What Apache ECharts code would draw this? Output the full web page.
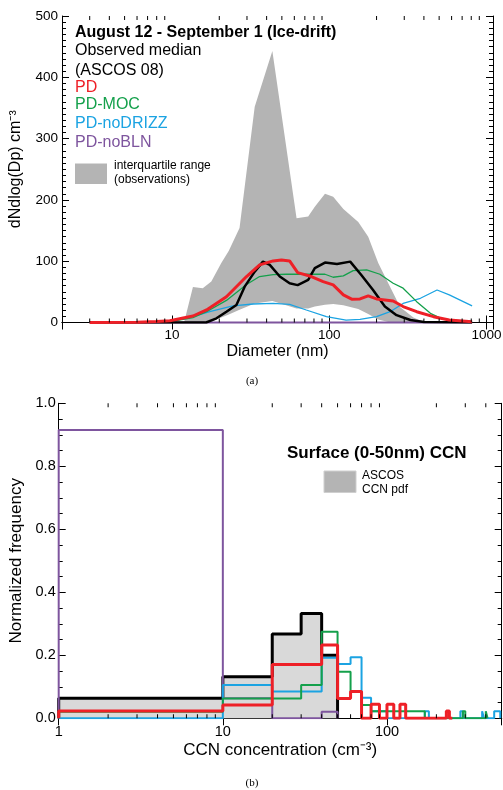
<!DOCTYPE html>
<html><head><meta charset="utf-8">
<script src="https://cdn.jsdelivr.net/npm/echarts@6/dist/echarts.min.js"></script>
<style>html,body{margin:0;padding:0;background:#fff}#c{width:503px;height:790px}</style>
</head><body><div id="c"></div>
<script>
// ---------- Panel (a): aerosol size distribution ----------
const medianD = [3, 16.5, 19.2, 22.2, 25.7, 29, 33.6, 37.9, 41.9, 48.5, 56, 63, 73.5, 81, 94, 112, 136, 160, 190, 226, 268, 328, 400, 810];
const medianV = [0, 0, 6.8, 17.6, 28.6, 58.5, 83, 99.3, 94, 75, 64, 61, 69.4, 88.6, 97.7, 95.6, 99.3, 77.6, 53, 26, 12, 4, 1, 0];

const pdD = [3, 6, 8, 9.7, 13.6, 16.6, 22.2, 29.8, 36.1, 44, 49.7, 56, 63, 77, 91.5, 106, 123, 139, 157, 177, 200, 255, 295, 360, 460, 580, 810];
const pdV = [0, 0.5, 1.5, 3, 10.6, 20.4, 42, 75, 94, 100.5, 102, 100.5, 81.4, 75, 66.7, 61.3, 45, 38, 38.4, 43.3, 38.4, 35, 26, 17.6, 9.5, 4, 1.3];

const mocD = [3, 8, 10, 13.6, 16.6, 22.2, 29.8, 36.1, 44, 53.5, 71.5, 94, 106, 123, 142, 173, 210, 255, 295, 360, 440, 530, 810];
const mocV = [0, 1, 2, 8, 17.6, 36, 62, 75, 78, 78.7, 78.7, 78.7, 73.8, 76, 84.6, 85.8, 78.7, 64, 56, 34, 15, 5, 0.5];

const noDrizzD = [3, 8, 10, 12.3, 15, 17.4, 24.4, 32.8, 44, 56, 71.5, 96, 128, 157, 200, 244, 295, 380, 485, 580, 810];
const noDrizzV = [0, 1, 2.5, 6.8, 13, 17.6, 27, 30.2, 31.3, 29.7, 20.4, 9.5, 4, 5.2, 9.5, 17.6, 31, 39.5, 53, 45, 27];

const noBlnD = [3, 810];
const noBlnV = [0, 0];

const bandD     = [12, 13.6, 15.7, 17.8, 20.6, 23, 26.9, 33.6, 43.5, 62, 73.5, 81, 94, 106, 123, 153, 177, 205, 244, 283, 343, 400, 800];
const bandUpper = [2, 58, 56, 67, 97, 117, 154, 352, 443, 170, 173, 189, 210, 205, 185, 164, 140, 97, 58, 25, 8, 1, 0];
const bandLower = [0, 0, 1, 4, 8, 13, 21, 31, 35, 23, 23, 26, 29, 30, 28, 22, 14, 5, 0, 0, 0, 0, 0];

const topMinorTicks = [3, 4, 5, 6, 7, 8, 9, 20, 30, 40, 50, 60, 70, 80, 90, 200, 300, 400, 500, 600, 700, 800, 900];

// ---------- Panel (b): CCN histograms (bin edges, values per bin) ----------
const ccnEdges = [1, 10, 20, 30, 40, 50, 60, 70, 80, 90, 100, 110, 120, 130, 140, 150, 160, 170, 180, 190, 200,
  210, 220, 230, 240, 250, 260, 270, 280, 290, 300, 310, 320, 330, 340, 350, 360, 370, 380, 390, 400,
  410, 420, 430, 440, 450, 460, 470, 480, 490, 500];
const ascosPdf = [0.064, 0.132, 0.268, 0.333, 0.200];
const noBlnPdf = [0.915, 0.064, 0, 0, 0.021];
const noDrizzPdf = [0, 0.106, 0.085, 0.085, 0.192, 0.172, 0.194, 0.065, 0.022, 0.022, 0, 0, 0, 0, 0, 0, 0, 0.022, 0, 0,
  0, 0, 0, 0, 0, 0, 0, 0, 0.022, 0, 0, 0, 0, 0, 0, 0, 0, 0, 0.022, 0, 0, 0, 0, 0, 0, 0.022, 0.022, 0.022, 0.022];
const mocPdf = [0.021, 0.063, 0.063, 0.106, 0.275, 0.148, 0.085, 0.042, 0.022, 0.022, 0.022, 0.022, 0.022, 0.022, 0.022, 0.022, 0.022, 0, 0, 0,
  0, 0, 0, 0, 0, 0, 0, 0, 0, 0.022, 0, 0, 0, 0, 0, 0, 0, 0, 0, 0, 0.022];
const pdPdf = [0.023, 0.042, 0.171, 0.171, 0.233, 0.063, 0.085, 0, 0.045, 0, 0.045, 0, 0.045, 0, 0, 0, 0, 0, 0, 0,
  0, 0, 0, 0.023, 0];

const bottomMinorTicks = [2, 3, 4, 5, 6, 7, 8, 9, 20, 30, 40, 50, 60, 70, 80, 90, 200, 300, 400];

const C = { red: '#ee2027', green: '#14a04b', blue: '#1ba3e2', purple: '#7e559e', black: '#000' };
const FONT = '"Liberation Sans", Arial, Helvetica, sans-serif';

function pairs(xs, ys) { return xs.map((x, i) => [x, ys[i]]); }
function histPoints(vals) {
  const pts = [[ccnEdges[0], 0]];
  vals.forEach((v, i) => pts.push([ccnEdges[i], v]));
  pts.push([ccnEdges[vals.length], 0]);
  return pts;
}

const axisLineStyle = { lineStyle: { color: '#000', width: 1 } };

// minor log ticks, drawn as tiny rect symbols on the bottom and top frame lines
function minorTickSeries(xi, yi, vals, yMin, yMax) {
  const base = { type: 'scatter', xAxisIndex: xi, yAxisIndex: yi, silent: true, z: 10, clip: false,
    symbol: 'rect', symbolSize: [1, 4], itemStyle: { color: '#000', opacity: 1 }, emphasis: { disabled: true } };
  return [
    Object.assign({}, base, { data: vals.map(v => [v, yMin]), symbolOffset: [0, -2] }),
    Object.assign({}, base, { data: vals.map(v => [v, yMax]), symbolOffset: [0, 2] })
  ];
}

const chart = echarts.init(document.getElementById('c'), null, { renderer: 'canvas' });

const option = {
  animation: false,
  backgroundColor: '#fff',
  textStyle: { fontFamily: FONT },
  grid: [
    { left: 62, top: 16, width: 431, height: 306.5, outerBoundsMode: 'none' },
    { left: 58.7, top: 403.3, width: 443, height: 315, outerBoundsMode: 'none' }
  ],
  xAxis: [
    { gridIndex: 0, type: 'log', logBase: 10, min: 2, max: 1100, position: 'bottom',
      name: 'Diameter (nm)', nameLocation: 'middle', nameGap: 20,
      nameTextStyle: { fontSize: 16, color: '#000', fontFamily: FONT },
      axisLine: axisLineStyle, axisTick: { inside: true, length: 7, lineStyle: { color: '#000' } },
      axisLabel: { fontSize: 13.5, color: '#000', margin: 6, showMinLabel: false, showMaxLabel: false,
        formatter: v => String(Math.round(v)) },
      splitLine: { show: false }, minorTick: { show: false } },
    { gridIndex: 0, type: 'log', logBase: 10, min: 2, max: 1100, position: 'top',
      axisLine: axisLineStyle, axisTick: { inside: true, length: 7, lineStyle: { color: '#000' } },
      axisLabel: { show: false }, splitLine: { show: false } },
    { gridIndex: 1, type: 'log', logBase: 10, min: 1, max: 500, position: 'bottom',
      name: 'CCN concentration (cm⁻³)', nameLocation: 'middle', nameGap: 24,
      nameTextStyle: { fontSize: 17, color: '#000', fontFamily: FONT },
      axisLine: axisLineStyle, axisTick: { inside: true, length: 7, lineStyle: { color: '#000' } },
      axisLabel: { fontSize: 14.5, color: '#000', margin: 6, showMinLabel: true, showMaxLabel: false,
        formatter: v => String(Math.round(v)) },
      splitLine: { show: false } },
    { gridIndex: 1, type: 'log', logBase: 10, min: 1, max: 500, position: 'top',
      axisLine: axisLineStyle, axisTick: { inside: true, length: 7, lineStyle: { color: '#000' } },
      axisLabel: { show: false }, splitLine: { show: false } }
  ],
  yAxis: [
    { gridIndex: 0, type: 'value', min: 0, max: 500, interval: 100, position: 'left',
      name: 'dNdlog(Dp) cm⁻³', nameLocation: 'middle', nameGap: 38,
      nameTextStyle: { fontSize: 16, color: '#000', fontFamily: FONT },
      axisLine: { show: true, lineStyle: { color: '#000', width: 1 } },
      axisTick: { show: true, inside: true, length: 7, lineStyle: { color: '#000' } },
      minorTick: { show: true, splitNumber: 10, length: 4, lineStyle: { color: '#000' } },
      axisLabel: { fontSize: 13.5, color: '#000', margin: 4 }, splitLine: { show: false } },
    { gridIndex: 0, type: 'value', min: 0, max: 500, interval: 100, position: 'right',
      axisLine: { show: true, lineStyle: { color: '#000', width: 1 } },
      axisTick: { show: true, inside: true, length: 7, lineStyle: { color: '#000' } },
      minorTick: { show: true, splitNumber: 10, length: 4, lineStyle: { color: '#000' } },
      axisLabel: { show: false }, splitLine: { show: false } },
    { gridIndex: 1, type: 'value', min: 0, max: 1, interval: 0.2, position: 'left',
      name: 'Normalized frequency', nameLocation: 'middle', nameGap: 31,
      nameTextStyle: { fontSize: 17, color: '#000', fontFamily: FONT },
      axisLine: { show: true, lineStyle: { color: '#000', width: 1 } },
      axisTick: { show: true, inside: true, length: 7, lineStyle: { color: '#000' } },
      minorTick: { show: true, splitNumber: 4, length: 4, lineStyle: { color: '#000' } },
      axisLabel: { fontSize: 14.5, color: '#000', margin: 3, formatter: v => v.toFixed(1) }, splitLine: { show: false } },
    { gridIndex: 1, type: 'value', min: 0, max: 1, interval: 0.2, position: 'right',
      axisLine: { show: true, lineStyle: { color: '#000', width: 1 } },
      axisTick: { show: true, inside: true, length: 7, lineStyle: { color: '#000' } },
      minorTick: { show: true, splitNumber: 4, length: 4, lineStyle: { color: '#000' } },
      axisLabel: { show: false }, splitLine: { show: false } }
  ],
  series: [
    // Panel (a)
    { name: 'interquartile range', type: 'custom', xAxisIndex: 0, yAxisIndex: 0, z: 1, silent: true,
      data: bandD.map((d, i) => [d, bandLower[i], bandUpper[i]]),
      encode: { x: 0, y: [1, 2] },
      renderItem(params, api) {
        if (params.dataIndex !== 0) return null;
        const up = bandD.map((d, i) => api.coord([d, bandUpper[i]]));
        const lo = bandD.map((d, i) => api.coord([d, bandLower[i]])).reverse();
        return { type: 'polygon', shape: { points: up.concat(lo) }, style: { fill: '#b4b4b4' } };
      } },
    { name: 'PD-noBLN', type: 'line', xAxisIndex: 0, yAxisIndex: 0, z: 2, showSymbol: false, clip: false,
      data: pairs(noBlnD, noBlnV), lineStyle: { color: C.purple, width: 2 } },
    { name: 'PD-noDRIZZ', type: 'line', xAxisIndex: 0, yAxisIndex: 0, z: 3, showSymbol: false,
      data: pairs(noDrizzD, noDrizzV), lineStyle: { color: C.blue, width: 1.3 } },
    { name: 'PD-MOC', type: 'line', xAxisIndex: 0, yAxisIndex: 0, z: 4, showSymbol: false,
      data: pairs(mocD, mocV), lineStyle: { color: C.green, width: 1.3 } },
    { name: 'Observed median', type: 'line', xAxisIndex: 0, yAxisIndex: 0, z: 5, showSymbol: false,
      data: pairs(medianD, medianV), lineStyle: { color: C.black, width: 2.5 } },
    { name: 'PD', type: 'line', xAxisIndex: 0, yAxisIndex: 0, z: 6, showSymbol: false,
      data: pairs(pdD, pdV), lineStyle: { color: C.red, width: 3 } },
    ...minorTickSeries(0, 0, topMinorTicks, 0, 500),
    // Panel (b)
    { name: 'ASCOS CCN pdf', type: 'line', step: 'end', xAxisIndex: 2, yAxisIndex: 2, z: 2, showSymbol: false,
      data: histPoints(ascosPdf), lineStyle: { color: C.black, width: 3 },
      areaStyle: { color: '#d9d9d9', opacity: 1 } },
    { name: 'PD-noBLN b', type: 'line', step: 'end', xAxisIndex: 2, yAxisIndex: 2, z: 3, showSymbol: false,
      data: histPoints(noBlnPdf), lineStyle: { color: C.purple, width: 2 } },
    { name: 'PD-noDRIZZ b', type: 'line', step: 'end', xAxisIndex: 2, yAxisIndex: 2, z: 4, showSymbol: false,
      data: histPoints(noDrizzPdf), lineStyle: { color: C.blue, width: 2 } },
    { name: 'PD-MOC b', type: 'line', step: 'end', xAxisIndex: 2, yAxisIndex: 2, z: 5, showSymbol: false,
      data: histPoints(mocPdf), lineStyle: { color: C.green, width: 2 } },
    { name: 'PD b', type: 'line', step: 'end', xAxisIndex: 2, yAxisIndex: 2, z: 6, showSymbol: false,
      data: histPoints(pdPdf), lineStyle: { color: C.red, width: 3 } },
    ...minorTickSeries(2, 2, bottomMinorTicks, 0, 1)
  ],
  graphic: [
    { type: 'text', x: 75, y: 33, style: { text: 'August 12 - September 1 (Ice-drift)', font: 'bold 16px ' + FONT, fill: '#000', verticalAlign: 'middle' } },
    { type: 'text', x: 75, y: 51, style: { text: 'Observed median', font: '16px ' + FONT, fill: '#000', verticalAlign: 'middle' } },
    { type: 'text', x: 75, y: 71, style: { text: '(ASCOS 08)', font: '16px ' + FONT, fill: '#000', verticalAlign: 'middle' } },
    { type: 'text', x: 75, y: 88, style: { text: 'PD', font: '16px ' + FONT, fill: C.red, verticalAlign: 'middle' } },
    { type: 'text', x: 75, y: 105, style: { text: 'PD-MOC', font: '16px ' + FONT, fill: C.green, verticalAlign: 'middle' } },
    { type: 'text', x: 75, y: 124, style: { text: 'PD-noDRIZZ', font: '16px ' + FONT, fill: C.blue, verticalAlign: 'middle' } },
    { type: 'text', x: 75, y: 143, style: { text: 'PD-noBLN', font: '16px ' + FONT, fill: C.purple, verticalAlign: 'middle' } },
    { type: 'rect', shape: { x: 75, y: 163.5, width: 32, height: 20.5 }, style: { fill: '#b4b4b4' } },
    { type: 'text', x: 114, y: 166, style: { text: 'interquartile range', font: '12px ' + FONT, fill: '#000', verticalAlign: 'middle' } },
    { type: 'text', x: 114, y: 180, style: { text: '(observations)', font: '12px ' + FONT, fill: '#000', verticalAlign: 'middle' } },
    { type: 'text', x: 252, y: 381, style: { text: '(a)', font: '11px "Liberation Serif", "DejaVu Serif", serif', fill: '#000', align: 'center', verticalAlign: 'middle' } },
    { type: 'text', x: 287, y: 453, style: { text: 'Surface (0-50nm) CCN', font: 'bold 17px ' + FONT, fill: '#000', verticalAlign: 'middle' } },
    { type: 'rect', shape: { x: 324, y: 471, width: 32, height: 21.5 }, style: { fill: '#b4b4b4', stroke: '#cfcfcf', lineWidth: 1 } },
    { type: 'text', x: 362, y: 476, style: { text: 'ASCOS', font: '12px ' + FONT, fill: '#000', verticalAlign: 'middle' } },
    { type: 'text', x: 362, y: 490, style: { text: 'CCN pdf', font: '12px ' + FONT, fill: '#000', verticalAlign: 'middle' } },
    { type: 'text', x: 252, y: 783, style: { text: '(b)', font: '11px "Liberation Serif", "DejaVu Serif", serif', fill: '#000', align: 'center', verticalAlign: 'middle' } }
  ]
};
chart.setOption(option);
</script>
</body></html>
